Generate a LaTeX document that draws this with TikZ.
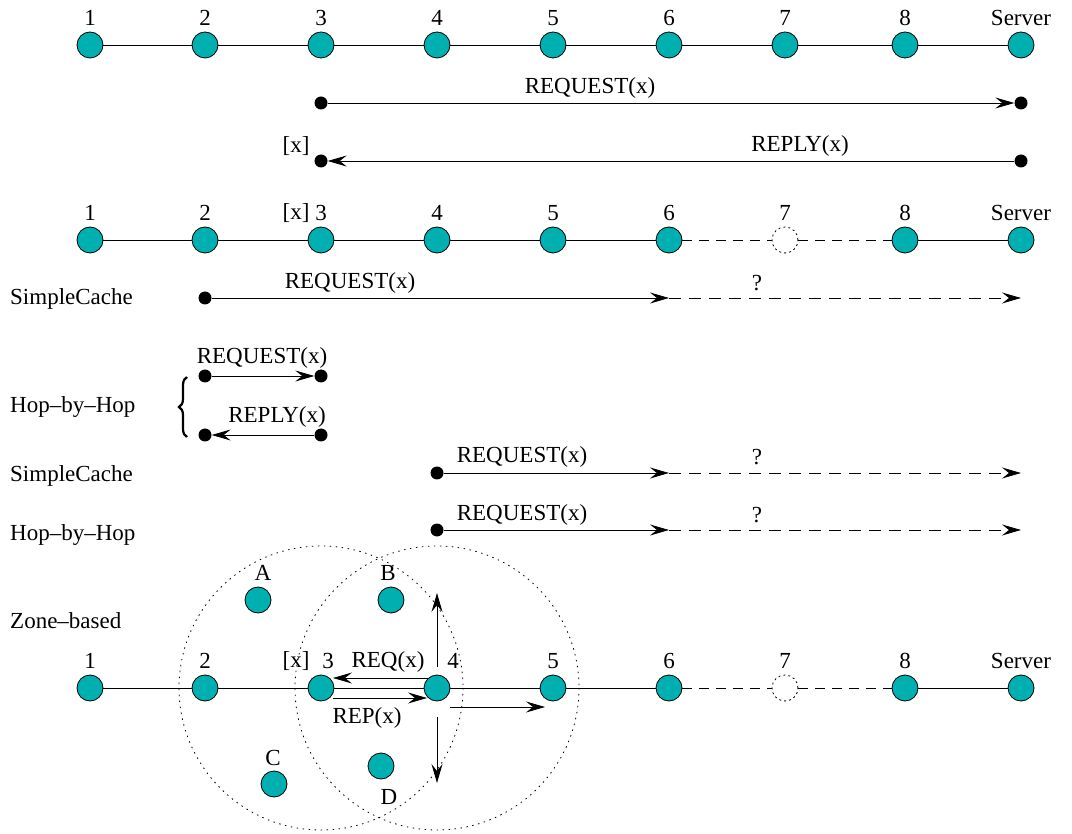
\documentclass[tikz,border=0pt]{standalone}
\usepackage{fontspec}
\setmainfont{Liberation Serif}
\usetikzlibrary{arrows.meta, decorations.pathreplacing}
\definecolor{peercol}{RGB}{0,176,176}

\begin{document}
\begin{tikzpicture}[x=1pt, y=-1pt, font=\fontsize{23}{27}\selectfont,
  peer/.style={circle, draw=black, fill=peercol, line width=0.8pt, minimum size=26pt, inner sep=0pt},
  gone/.style={circle, draw=black, line width=0.8pt, dash pattern=on 2pt off 3pt, minimum size=26pt, inner sep=0pt},
  enddot/.style={circle, fill=black, minimum size=13pt, inner sep=0pt},
  lbl/.style={inner sep=1pt},
  link/.style={line width=0.8pt},
  broken/.style={line width=0.8pt, dash pattern=on 10pt off 7pt},
  msg/.style={line width=0.8pt, -{Stealth[length=19pt, width=11pt, inset=7pt]}},
  lost/.style={msg, dash pattern=on 12pt off 8pt},
  zone/.style={line width=0.8pt, dash pattern=on 1.5pt off 4.5pt},
  bracket/.style={decorate, decoration={brace, amplitude=8pt}, line width=2.2pt}]
  \useasboundingbox (0,0) rectangle (1072,834);

  % row of peers, all alive
  \foreach \n/\x/\t in {1/90/1, 2/205/2, 3/321/3, 4/437/4, 5/553/5, 6/669/6, 7/785/7, 8/905/8, 9/1021/Server} {
    \node[peer] (a\n) at (\x,45) {};
    \node[lbl] (ta\n) at (\x,18) {\t};
  }
  \foreach \i [count=\j from 2] in {1,...,8}
    \draw[link] (a\i) -- (a\j);

  \node[enddot] (q1) at (321,103) {};
  \node[enddot] (q2) at (1021,103) {};
  \draw[msg] (q1) -- (q2);
  \node[lbl] (tq) at (590,88) {REQUEST(x)};

  \node[enddot] (p1) at (1021,161) {};
  \node[enddot] (p2) at (321,161) {};
  \draw[msg] (p1) -- (p2);
  \node[lbl] (tp) at (800,146) {REPLY(x)};
  \node[lbl] (xp) at (296,146) {[x]};

  % row of peers, 7 gone
  \foreach \n/\x/\t in {1/90/1, 2/205/2, 3/321/3, 4/437/4, 5/553/5, 6/669/6, 8/905/8, 9/1021/Server} {
    \node[peer] (b\n) at (\x,240) {};
    \node[lbl] (tb\n) at (\x,213) {\t};
  }
  \node[gone] (b7) at (785,240) {};
  \node[lbl] (tb7) at (785,213) {7};
  \node[lbl] (xb) at (296,213) {[x]};
  \foreach \i/\j in {1/2, 2/3, 3/4, 4/5, 5/6, 8/9}
    \draw[link] (b\i) -- (b\j);
  \draw[broken] (b6) -- (b7) -- (b8);

  % SimpleCache
  \node[anchor=west, inner sep=0pt] (sc1) at (10,299) {SimpleCache};
  \node[enddot] (s1) at (205,298) {};
  \coordinate (s2) at (669,298);
  \coordinate (s3) at (1021,298);
  \draw[msg] (s1) -- (s2);
  \draw[lost] (s2) -- (s3);
  \node[lbl] (ts) at (350,283) {REQUEST(x)};
  \node[lbl] (qs) at (757,283) {?};

  % Hop-by-Hop
  \node[anchor=west, inner sep=0pt] (hh1) at (10,407) {Hop\textendash by\textendash Hop};
  \coordinate (br1) at (187,437);
  \coordinate (br2) at (187,377);
  \draw[bracket] (br1) -- (br2);
  \node[enddot] (h1) at (205,376) {};
  \node[enddot] (h2) at (321,376) {};
  \node[enddot] (h3) at (321,435) {};
  \node[enddot] (h4) at (205,435) {};
  \draw[msg] (h1) -- (h2);
  \draw[msg] (h3) -- (h4);
  \node[lbl] (th1) at (262,358) {REQUEST(x)};
  \node[lbl] (th2) at (277,417) {REPLY(x)};

  \node[anchor=west, inner sep=0pt] (sc2) at (10,476) {SimpleCache};
  \node[enddot] (c1) at (437,473) {};
  \coordinate (c2) at (669,473);
  \coordinate (c3) at (1021,473);
  \draw[msg] (c1) -- (c2);
  \draw[lost] (c2) -- (c3);
  \node[lbl] (tc) at (522,457) {REQUEST(x)};
  \node[lbl] (qc) at (757,457) {?};

  \node[anchor=west, inner sep=0pt] (hh2) at (10,535) {Hop\textendash by\textendash Hop};
  \node[enddot] (k1) at (437,530) {};
  \coordinate (k2) at (669,530);
  \coordinate (k3) at (1021,530);
  \draw[msg] (k1) -- (k2);
  \draw[lost] (k2) -- (k3);
  \node[lbl] (tk) at (522,515) {REQUEST(x)};
  \node[lbl] (qk) at (757,515) {?};

  % Zone-based
  \node[anchor=west, inner sep=0pt] (zb) at (10,621) {Zone\textendash based};
  \foreach \n/\x/\t in {1/90/1, 2/205/2, 5/553/5, 6/669/6, 8/905/8, 9/1021/Server} {
    \node[peer] (z\n) at (\x,688) {};
    \node[lbl] (tz\n) at (\x,661) {\t};
  }
  \node[peer] (z3) at (321,688) {};
  \node[lbl] (tz3) at (328,661) {3};
  \node[peer] (z4) at (437,688) {};
  \node[lbl] (tz4) at (453,661) {4};
  \node[gone] (z7) at (785,688) {};
  \node[lbl] (tz7) at (785,661) {7};
  \node[lbl] (xz) at (296,661) {[x]};
  \foreach \i/\j in {1/2, 2/3, 3/4, 4/5, 5/6, 8/9}
    \draw[link] (z\i) -- (z\j);
  \draw[broken] (z6) -- (z7) -- (z8);

  \draw[zone] (z3.center) circle[radius=142];
  \draw[zone] (z4.center) circle[radius=142];

  \node[peer] (nA) at (258,600) {};
  \node[lbl] (tA) at (263,573) {A};
  \node[peer] (nB) at (391,600) {};
  \node[lbl] (tB) at (388,573) {B};
  \node[peer] (nC) at (274,784) {};
  \node[lbl] (tC) at (273,758) {C};
  \node[peer] (nD) at (381,766) {};
  \node[lbl] (tD) at (389,797) {D};

  \coordinate (r1) at (428,678);
  \coordinate (r2) at (333,678);
  \coordinate (r3) at (333,698);
  \coordinate (r4) at (427,698);
  \draw[msg] (r1) -- (r2);
  \draw[msg] (r3) -- (r4);
  \node[lbl] (treq) at (388,662) {REQ(x)};
  \node[lbl] (trep) at (367,718) {REP(x)};

  \coordinate (u1) at (437,667);
  \coordinate (u2) at (437,593);
  \coordinate (d1) at (437,717);
  \coordinate (d2) at (437,783);
  \coordinate (e1) at (450,707);
  \coordinate (e2) at (545,707);
  \draw[msg] (u1) -- (u2);
  \draw[msg] (d1) -- (d2);
  \draw[msg] (e1) -- (e2);
\end{tikzpicture}
\end{document}
